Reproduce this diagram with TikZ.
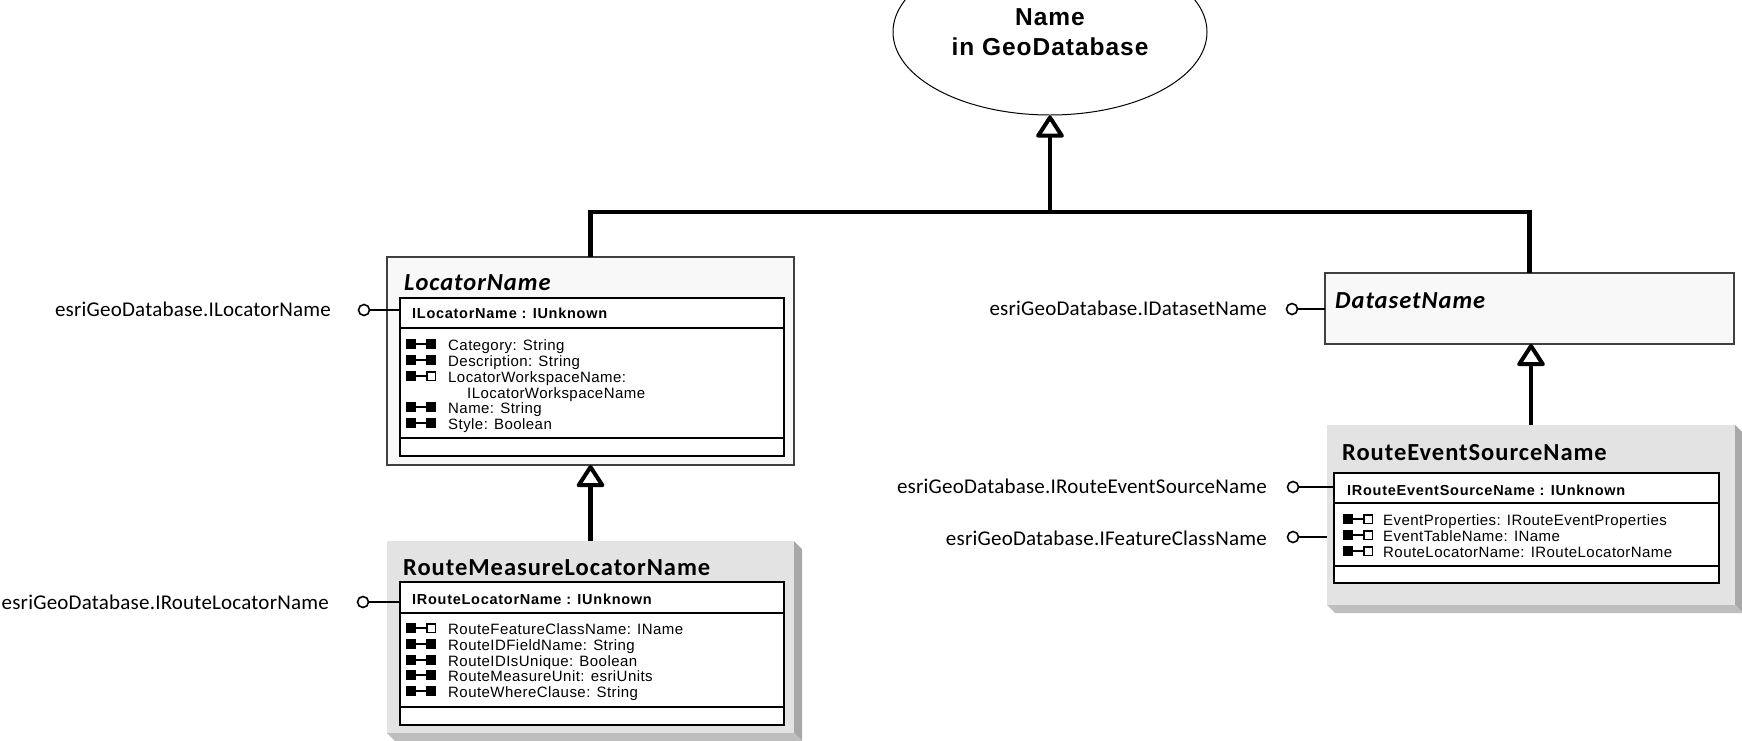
\documentclass[tikz,border=0pt]{standalone}
\usepackage{fontspec}
\usetikzlibrary{shapes.geometric,arrows.meta}
\newfontfamily\titlefont[LetterSpace=4]{Carlito}
\newfontfamily\labelfont[LetterSpace=1]{Carlito}
\newfontfamily\memfont[LetterSpace=3]{Liberation Sans}
\newfontfamily\hdrfont[LetterSpace=5]{Liberation Sans}
\newfontfamily\ellfont[LetterSpace=4]{Liberation Sans}
\definecolor{boxgray}{HTML}{E3E3E3}
\definecolor{shadeR}{HTML}{A8A8A8}
\definecolor{shadeB}{HTML}{BEBEBE}
\definecolor{paleFill}{HTML}{F8F8F8}
\definecolor{edgegray}{HTML}{404040}
\begin{document}
\begin{tikzpicture}[x=1pt,y=-1pt,
  outerbox/.style={draw=edgegray,line width=1.5pt,fill=paleFill,anchor=north west,inner sep=0pt,outer sep=0pt},
  graybox/.style={fill=boxgray,anchor=north west,inner sep=0pt,outer sep=0pt},
  innerbox/.style={draw=black,line width=2pt,fill=white,anchor=north west,inner sep=0pt,outer sep=0pt},
  sepline/.style={line width=1.8pt},
  bus/.style={line width=4.5pt},
  gen/.style={line width=4.5pt,-{Triangle[fill=white,round,length=24pt,width=30pt,line width=4pt]}},
  titletext/.style={anchor=base west,inner sep=0pt,font=\titlefont\fontsize{24.5}{28}\selectfont\bfseries},
  hdrtext/.style={anchor=base west,inner sep=0pt,font=\hdrfont\fontsize{14.5}{16}\selectfont\bfseries},
  memtext/.style={anchor=base west,inner sep=0pt,font=\memfont\fontsize{15}{16}\selectfont},
  lbltext/.style={anchor=base east,inner sep=0pt,font=\labelfont\fontsize{21}{25}\selectfont},
  lolli/.style={draw,circle,minimum size=11pt,inner sep=0pt,line width=1.6pt,fill=white},
  lolline/.style={line width=1.6pt},
  propfull/.pic={\fill (0,-11) rectangle (10,-1); \draw[line width=1.5pt] (10,-6) -- (20,-6); \fill (20,-11) rectangle (30,-1);},
  propopen/.pic={\fill (0,-11) rectangle (10,-1); \draw[line width=1.5pt] (10,-6) -- (20,-6); \draw[line width=1.5pt,fill=white] (20.75,-10.25) rectangle (29.25,-1.75);}
]
\useasboundingbox (0,0) rectangle (1742,740);

% ---------- ellipse ----------
\node[draw,ellipse,line width=1pt,fill=white,minimum width=314pt,minimum height=166pt,inner sep=0pt,align=center,
      font=\ellfont\fontsize{24.5}{30}\selectfont\bfseries] (ell) at (1050,32) {Name\\in GeoDatabase};

% ---------- LocatorName ----------
\node[outerbox,minimum width=407pt,minimum height=208pt] (locOuter) at (387,257) {};
\node[innerbox,minimum width=384pt,minimum height=158pt] (locInner) at (400,298) {};
\draw[sepline] (locInner.west |- 0,328) -- (locInner.east |- 0,328);
\draw[sepline] (locInner.west |- 0,438) -- (locInner.east |- 0,438);
\node[titletext] (locTitle) at (404,290) {\itshape LocatorName};
\node[hdrtext] (locHdr) at (412,318) {ILocatorName : IUnknown};
\pic at (406,350) {propfull};
\node[memtext] (locM1) at (448,350) {Category: String};
\pic at (406,366) {propfull};
\node[memtext] (locM2) at (448,366) {Description: String};
\pic at (406,382) {propopen};
\node[memtext] (locM3) at (448,382) {LocatorWorkspaceName:};
\node[memtext] (locM3b) at (467,398) {ILocatorWorkspaceName};
\pic at (406,413) {propfull};
\node[memtext] (locM4) at (448,413) {Name: String};
\pic at (406,429) {propfull};
\node[memtext] (locM5) at (448,429) {Style: Boolean};

% ---------- RouteMeasureLocatorName ----------
\node[graybox,minimum width=407pt,minimum height=192pt] (rmOuter) at (387,541) {};
\fill[shadeR] (rmOuter.north east) -- ([shift={(8,8)}]rmOuter.north east) -- ([shift={(8,8)}]rmOuter.south east) -- (rmOuter.south east) -- cycle;
\fill[shadeB] (rmOuter.south west) -- (rmOuter.south east) -- ([shift={(8,8)}]rmOuter.south east) -- ([shift={(8,8)}]rmOuter.south west) -- cycle;
\node[innerbox,minimum width=384pt,minimum height=143pt] (rmInner) at (400,582) {};
\draw[sepline] (rmInner.west |- 0,613) -- (rmInner.east |- 0,613);
\draw[sepline] (rmInner.west |- 0,707) -- (rmInner.east |- 0,707);
\node[titletext] (rmTitle) at (403,575) {RouteMeasureLocatorName};
\node[hdrtext] (rmHdr) at (412,604) {IRouteLocatorName : IUnknown};
\pic at (406,634) {propopen};
\node[memtext] (rmM1) at (448,634) {RouteFeatureClassName: IName};
\pic at (406,650) {propfull};
\node[memtext] (rmM2) at (448,650) {RouteIDFieldName: String};
\pic at (406,666) {propfull};
\node[memtext] (rmM3) at (448,666) {RouteIDIsUnique: Boolean};
\pic at (406,681) {propfull};
\node[memtext] (rmM4) at (448,681) {RouteMeasureUnit: esriUnits};
\pic at (406,697) {propfull};
\node[memtext] (rmM5) at (448,697) {RouteWhereClause: String};

% ---------- DatasetName ----------
\node[outerbox,minimum width=409pt,minimum height=71pt] (dsOuter) at (1325,273) {};
\node[titletext] (dsTitle) at (1335,308) {\itshape DatasetName};

% ---------- RouteEventSourceName ----------
\node[graybox,minimum width=408pt,minimum height=180pt] (resOuter) at (1327,425) {};
\fill[shadeR] (resOuter.north east) -- ([shift={(8,8)}]resOuter.north east) -- ([shift={(8,8)}]resOuter.south east) -- (resOuter.south east) -- cycle;
\fill[shadeB] (resOuter.south west) -- (resOuter.south east) -- ([shift={(8,8)}]resOuter.south east) -- ([shift={(8,8)}]resOuter.south west) -- cycle;
\node[innerbox,minimum width=385pt,minimum height=110pt] (resInner) at (1334,473) {};
\draw[sepline] (resInner.west |- 0,503) -- (resInner.east |- 0,503);
\draw[sepline] (resInner.west |- 0,566) -- (resInner.east |- 0,566);
\node[titletext] (resTitle) at (1342,460) {RouteEventSourceName};
\node[hdrtext] (resHdr) at (1347,495) {IRouteEventSourceName : IUnknown};
\pic at (1343,525) {propopen};
\node[memtext] (resM1) at (1383,525) {EventProperties: IRouteEventProperties};
\pic at (1343,541) {propopen};
\node[memtext] (resM2) at (1383,541) {EventTableName: IName};
\pic at (1343,557) {propopen};
\node[memtext] (resM3) at (1383,557) {RouteLocatorName: IRouteLocatorName};

% ---------- inheritance ----------
\coordinate (j) at (1050,212);
\draw[bus] (locOuter.north) -- (locOuter.north |- j) -- (dsOuter.north |- j) -- (dsOuter.north);
\draw[gen] (j) -- (ell.south);
\draw[gen] (rmOuter.north) -- (rmOuter.north |- locOuter.south);
\draw[gen] (resOuter.north) -- (resOuter.north |- dsOuter.south);

% ---------- interfaces ----------
\node[lolli] (cLoc) at (364,310) {};
\draw[lolline] (cLoc.east) -- (locInner.west |- cLoc);
\node[lbltext] (lLoc) at (331,316) {esriGeoDatabase.ILocatorName};

\node[lolli] (cRm) at (363,602) {};
\draw[lolline] (cRm.east) -- (rmInner.west |- cRm);
\node[lbltext] (lRm) at (329,609) {esriGeoDatabase.IRouteLocatorName};

\node[lolli] (cDs) at (1292,309) {};
\draw[lolline] (cDs.east) -- (dsOuter.west |- cDs);
\node[lbltext] (lDs) at (1267,315) {esriGeoDatabase.IDatasetName};

\node[lolli] (cRes) at (1293,487) {};
\draw[lolline] (cRes.east) -- (resInner.west |- cRes);
\node[lbltext] (lRes) at (1267,493) {esriGeoDatabase.IRouteEventSourceName};

\node[lolli] (cFc) at (1293,537) {};
\draw[lolline] (cFc.east) -- (resOuter.west |- cFc);
\node[lbltext] (lFc) at (1267,545) {esriGeoDatabase.IFeatureClassName};
\end{tikzpicture}
\end{document}
